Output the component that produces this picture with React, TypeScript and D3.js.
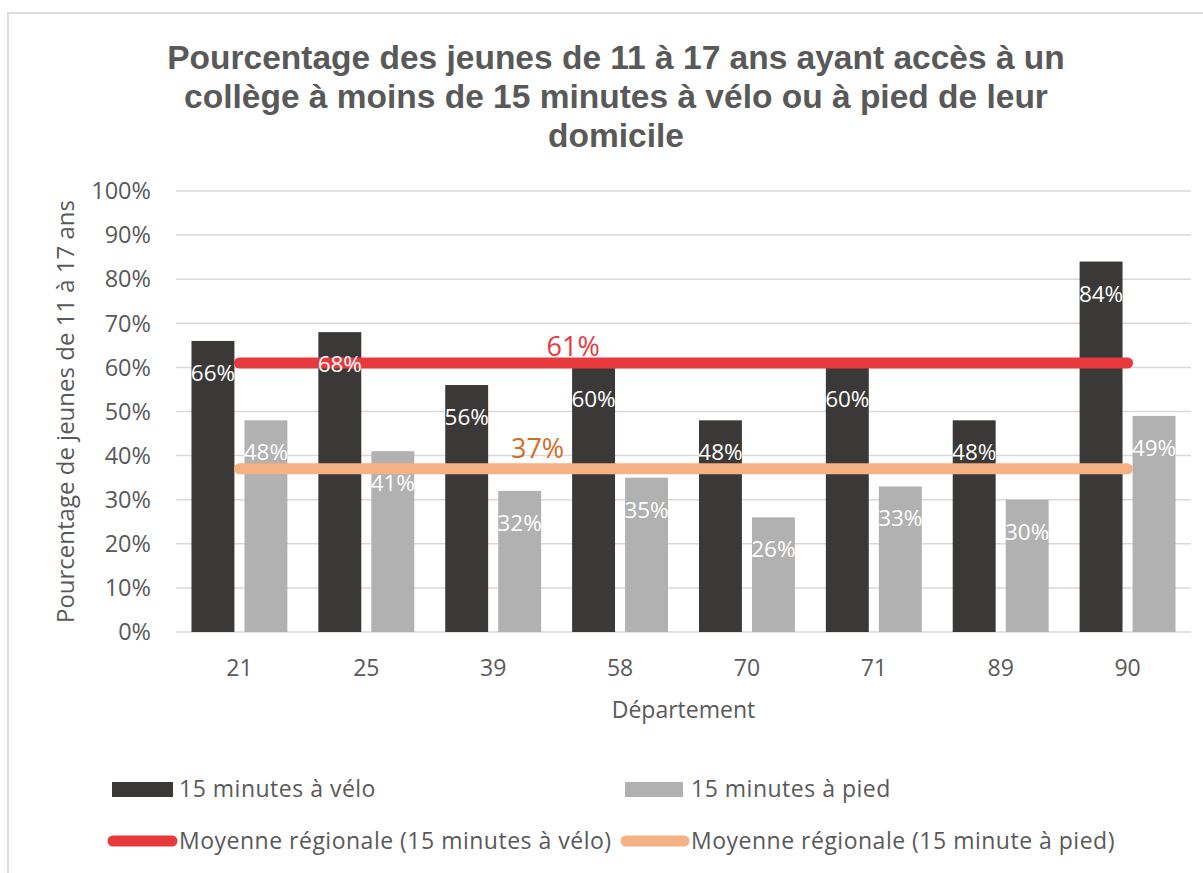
import React from "react";
import * as d3 from "d3";

// data
const departements = ["21", "25", "39", "58", "70", "71", "89", "90"];
const veloValues = [66, 68, 56, 60, 48, 60, 48, 84];
const piedValues = [48, 41, 32, 35, 26, 33, 30, 49];
const moyenneVelo = 61;
const moyennePied = 37;
const seriesNames = ["15 minutes à vélo", "15 minutes à pied"];
const lineNames = ["Moyenne régionale (15 minutes à vélo)", "Moyenne régionale (15 minute à pied)"];
const titleLines = [
  "Pourcentage des jeunes de 11 à 17 ans ayant accès à un",
  "collège à moins de 15 minutes à vélo ou à pied de leur",
  "domicile",
];
const yTitle = "Pourcentage de jeunes de 11 à 17 ans";
const xTitle = "Département";

const W = 1203;
const H = 873;
const m = { t: 191, r: 12, b: 241, l: 176 };
const colors = {
  velo: "#3b3937",
  pied: "#b1b1b1",
  red: "#e8393d",
  orange: "#f4b183",
  orangeText: "#cf6d2e",
  text: "#595959",
  grid: "#d9d9d9",
};
const font = "'Open Sans', sans-serif";
// where the two average labels sit, in category steps from the left edge
const avgLabelAt = { velo: 3.13, pied: 2.85 };

export default function App() {
  const x0 = d3.scaleBand<string>()
    .domain(departements)
    .range([m.l, W - m.r])
    .paddingInner(0.244)
    .paddingOuter(0.122);
  const x1 = d3.scaleBand<string>()
    .domain(["velo", "pied"])
    .range([0, x0.bandwidth()])
    .paddingInner(0.19);
  const y = d3.scaleLinear().domain([0, 100]).range([H - m.b, m.t]);
  const cx = (d: string) => (x0(d) || 0) + x0.bandwidth() / 2;

  const avgLine = (v: number) =>
    d3.line<string>().x((d) => cx(d)).y(() => y(v))(departements) || "";

  const series = [
    { key: "velo", values: veloValues, color: colors.velo },
    { key: "pied", values: piedValues, color: colors.pied },
  ];

  const labelX = (p: number) => x0.range()[0] + p * x0.step();

  return (
    <svg width={W} height={H} style={{ position: "absolute", left: 0, top: 0, background: "#fff" }}>
      <rect x={8} y={13} width={1300} height={1000} fill="#fff" stroke="#dcdcdc" strokeWidth={2} />

      <g fontFamily="'Liberation Sans', Arial, sans-serif" fontWeight={700} fontSize={33.5} fill={colors.text} textAnchor="middle">
        {titleLines.map((t, i) => (
          <text key={i} x={616} y={69 + i * 39}>{t}</text>
        ))}
      </g>

      {/* gridlines + y ticks */}
      <g fontFamily={font} fontSize={23.5} fill={colors.text}>
        {y.ticks(10).map((t) => (
          <g key={t}>
            <line x1={m.l} x2={W - m.r} y1={y(t)} y2={y(t)} stroke={colors.grid} strokeWidth={1.5} />
            <text x={151} y={y(t)} dy="0.35em" textAnchor="end">{`${t}%`}</text>
          </g>
        ))}
      </g>

      {/* bars */}
      {series.map((s) => (
        <g key={s.key} fill={s.color}>
          {s.values.map((v, i) => (
            <rect
              key={i}
              x={(x0(departements[i]) || 0) + (x1(s.key) || 0)}
              y={y(v)}
              width={x1.bandwidth()}
              height={y(0) - y(v)}
            />
          ))}
        </g>
      ))}

      {/* regional averages */}
      <path d={avgLine(moyenneVelo)} stroke={colors.red} strokeWidth={11} strokeLinecap="round" fill="none" />
      <path d={avgLine(moyennePied)} stroke={colors.orange} strokeWidth={11} strokeLinecap="round" fill="none" />

      {/* bar labels */}
      <g fontFamily={font} fontSize={22.5} fill="#fff" textAnchor="middle">
        {series.map((s) =>
          s.values.map((v, i) => (
            <text
              key={s.key + i}
              x={(x0(departements[i]) || 0) + (x1(s.key) || 0) + x1.bandwidth() / 2}
              y={y(v) + 40}
            >{`${v}%`}</text>
          ))
        )}
      </g>

      <g fontFamily={font} fontSize={27} textAnchor="middle">
        <text x={labelX(avgLabelAt.velo)} y={y(moyenneVelo) - 7} fill={colors.red}>{`${moyenneVelo}%`}</text>
        <text x={labelX(avgLabelAt.pied)} y={y(moyennePied) - 11} fill={colors.orangeText}>{`${moyennePied}%`}</text>
      </g>

      {/* x axis labels */}
      <g fontFamily={font} fontSize={23} fill={colors.text} textAnchor="middle">
        {departements.map((d) => (
          <text key={d} x={cx(d)} y={676}>{d}</text>
        ))}
        <text x={(m.l + W - m.r) / 2} y={718}>{xTitle}</text>
        <text transform={`translate(66,${(y(0) + y(100)) / 2}) rotate(-90)`} dy="0.35em" fontSize={24}>{yTitle}</text>
      </g>

      {/* legend */}
      <g fontFamily={font} fontSize={23} letterSpacing={0.5} fill={colors.text}>
        <rect x={112} y={782} width={61} height={15} fill={colors.velo} />
        <text x={179} y={797}>{seriesNames[0]}</text>
        <rect x={625} y={782} width={58} height={15} fill={colors.pied} />
        <text x={691} y={797}>{seriesNames[1]}</text>
        <line x1={113} x2={172} y1={841} y2={841} stroke={colors.red} strokeWidth={11} strokeLinecap="round" />
        <text x={179} y={849}>{lineNames[0]}</text>
        <line x1={626} x2={684} y1={841} y2={841} stroke={colors.orange} strokeWidth={11} strokeLinecap="round" />
        <text x={691} y={849}>{lineNames[1]}</text>
      </g>
    </svg>
  );
}
